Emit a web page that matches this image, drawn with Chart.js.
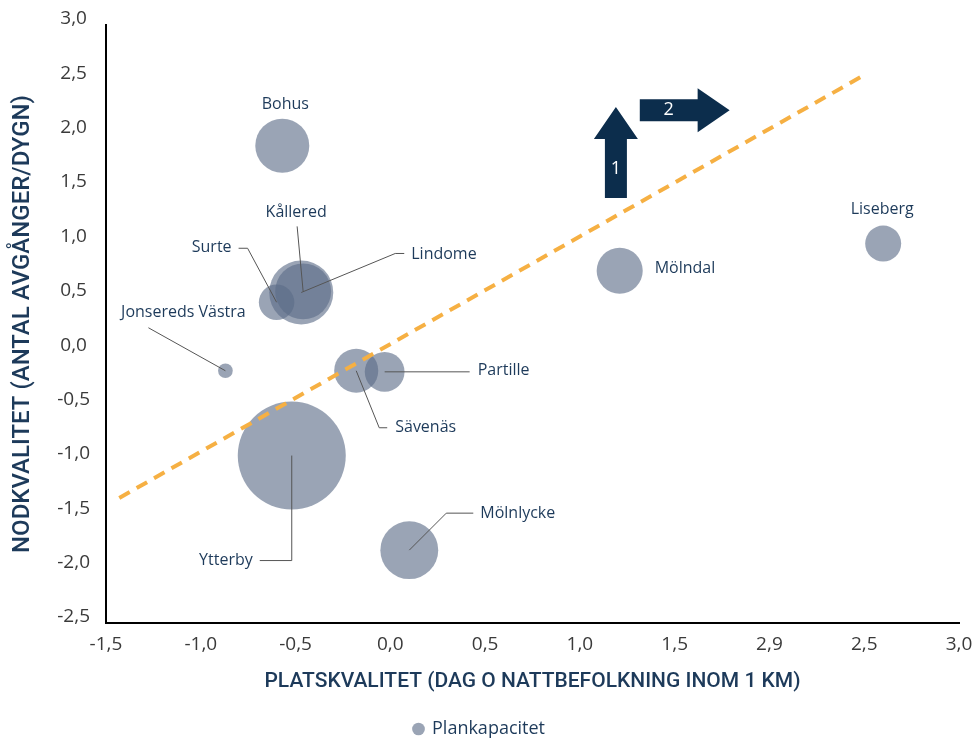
<!DOCTYPE html>
<html>
<head>
<meta charset="utf-8">
<script src="https://cdn.jsdelivr.net/npm/chart.js@4.4.1/dist/chart.umd.min.js"></script>
<style>
    html, body { margin: 0; padding: 0; background: #fff; }
    #wrap { width: 979px; height: 740px; }
</style>
</head>
<body>
<div id="wrap"><canvas id="bubble-chart"></canvas></div>
<script>
const stations = ["Bohus", "Kållered", "Lindome", "Surte", "Jonsereds Västra", "Sävenäs", "Partille", "Ytterby", "Mölnlycke", "Mölndal", "Liseberg"];
const platskvalitet = [-0.57, -0.46, -0.47, -0.60, -0.87, -0.18, -0.03, -0.52, 0.10, 1.21, 2.60];
const nodkvalitet = [1.89, 0.55, 0.54, 0.45, -0.18, -0.18, -0.19, -0.96, -1.83, 0.74, 0.99];
const plankapacitet = [81, 87, 114, 35, 6, 54, 44, 324, 93, 59, 36];

const trendX = [-1.43, 2.49];
const trendY = [-1.35, 2.53];

const xTickValues = [-1.5, -1.0, -0.5, 0.0, 0.5, 1.0, 1.5, 2.0, 2.5, 3.0];
const xTickLabels = ["-1,5", "-1,0", "-0,5", "0,0", "0,5", "1,0", "1,5", "2,9", "2,5", "3,0"];
const yTickValues = [-2.5, -2.0, -1.5, -1.0, -0.5, 0.0, 0.5, 1.0, 1.5, 2.0, 2.5, 3.0];
const yTickLabels = ["-2,5", "-2,0", "-1,5", "-1,0", "-0,5", "0,0", "0,5", "1,0", "1,5", "2,0", "2,5", "3,0"];

// arrows sit in data space, sizes in px
const arrowUp = { x: 1.19, from: 1.41, to: 2.245, text: "1" };
const arrowRight = { y: 2.216, from: 1.316, to: 1.79, text: "2" };

const navy = "#1d3a5a";
const bubbleColor = "rgba(92, 108, 135, 0.62)";

// where each name goes, relative to its bubble centre (px)
const labelLayout = {
    "Bohus":            { dx: 3,   dy: -41, align: "center", leader: [] },
    "Kållered":         { dx: -7,  dy: -79, align: "center", leader: [[0, 0], [-6, -65]] },
    "Lindome":          { dx: 110, dy: -38, align: "left",   leader: [[0, 0], [94, -39], [103, -39]] },
    "Surte":            { dx: -45, dy: -55, align: "right",  leader: [[0, 0], [-29, -54], [-38, -54]] },
    "Jonsereds Västra": { dx: -42, dy: -58, align: "center", leader: [[0, 0], [-77, -43]] },
    "Sävenäs":          { dx: 39,  dy: 57,  align: "left",   leader: [[0, 0], [23, 57], [31, 57]] },
    "Partille":         { dx: 93,  dy: -1,  align: "left",   leader: [[0, 0], [85, 0]] },
    "Ytterby":          { dx: -39, dy: 105, align: "right",  leader: [[0, 0], [0, 105], [-32, 105]] },
    "Mölnlycke":        { dx: 71,  dy: -37, align: "left",   leader: [[0, 0], [37, -37], [64, -37]] },
    "Mölndal":          { dx: 35,  dy: -2,  align: "left",   leader: [] },
    "Liseberg":         { dx: -1,  dy: -34, align: "center", leader: [] }
};

function buildBubbles() {
    const points = [];
    stations.forEach((name, i) => {
        points.push({ x: platskvalitet[i], y: nodkvalitet[i], r: Math.sqrt(plankapacitet[i]) * 3 });
    });
    return points;
}

function buildTrend() {
    return trendX.map((x, i) => ({ x: x, y: trendY[i] }));
}

const labelPlugin = {
    id: "stationLabels",
    afterDatasetsDraw(chart) {
        const ctx = chart.ctx;
        const meta = chart.getDatasetMeta(0);
        ctx.save();
        ctx.font = "16px 'Open Sans'";
        ctx.textBaseline = "middle";
        meta.data.forEach((el, i) => {
            const lay = labelLayout[stations[i]];
            if (lay.leader.length) {
                ctx.beginPath();
                ctx.strokeStyle = "#555";
                ctx.lineWidth = 1;
                lay.leader.forEach((p, j) => {
                    if (j === 0) ctx.moveTo(el.x + p[0], el.y + p[1]);
                    else ctx.lineTo(el.x + p[0], el.y + p[1]);
                });
                ctx.stroke();
            }
            ctx.fillStyle = navy;
            ctx.textAlign = lay.align;
            ctx.fillText(stations[i], el.x + lay.dx, el.y + lay.dy);
        });
        ctx.restore();
    }
};

const arrowPlugin = {
    id: "arrows",
    afterDatasetsDraw(chart) {
        const ctx = chart.ctx;
        const xs = chart.scales.x;
        const ys = chart.scales.y;
        const shaft = 11, head = 22, headLen = 32;
        ctx.save();
        ctx.fillStyle = "#0c2d4c";

        const ux = xs.getPixelForValue(arrowUp.x);
        const uy0 = ys.getPixelForValue(arrowUp.from);
        const uy1 = ys.getPixelForValue(arrowUp.to);
        ctx.beginPath();
        ctx.moveTo(ux - shaft, uy0);
        ctx.lineTo(ux - shaft, uy1 + headLen);
        ctx.lineTo(ux - head, uy1 + headLen);
        ctx.lineTo(ux, uy1);
        ctx.lineTo(ux + head, uy1 + headLen);
        ctx.lineTo(ux + shaft, uy1 + headLen);
        ctx.lineTo(ux + shaft, uy0);
        ctx.closePath();
        ctx.fill();

        const ry = ys.getPixelForValue(arrowRight.y);
        const rx0 = xs.getPixelForValue(arrowRight.from);
        const rx1 = xs.getPixelForValue(arrowRight.to);
        ctx.beginPath();
        ctx.moveTo(rx0, ry - shaft);
        ctx.lineTo(rx1 - headLen, ry - shaft);
        ctx.lineTo(rx1 - headLen, ry - head);
        ctx.lineTo(rx1, ry);
        ctx.lineTo(rx1 - headLen, ry + head);
        ctx.lineTo(rx1 - headLen, ry + shaft);
        ctx.lineTo(rx0, ry + shaft);
        ctx.closePath();
        ctx.fill();

        ctx.fillStyle = "#fff";
        ctx.font = "18px 'Open Sans'";
        ctx.textAlign = "center";
        ctx.textBaseline = "middle";
        ctx.fillText(arrowUp.text, ux, (uy0 + uy1 + headLen) / 2);
        ctx.fillText(arrowRight.text, (rx0 + rx1 - headLen) / 2, ry);
        ctx.restore();
    }
};

const chartEl = document.getElementById("bubble-chart");
const bubbleChart = new Chart(chartEl, {
    type: "bubble",
    data: {
        datasets: [
            {
                label: "Plankapacitet",
                data: buildBubbles(),
                backgroundColor: bubbleColor,
                borderWidth: 0,
                hoverBorderWidth: 0,
                order: 1
            },
            {
                type: "line",
                label: "Trend",
                data: buildTrend(),
                borderColor: "#f6b043",
                borderWidth: 4,
                borderDash: [12, 8],
                pointRadius: 0,
                fill: false,
                order: 0
            }
        ]
    },
    options: {
        responsive: true,
        maintainAspectRatio: false,
        animation: false,
        layout: { autoPadding: false, padding: { left: 0, right: 20, top: 25, bottom: -8 } },
        plugins: {
            tooltip: { enabled: false },
            legend: {
                position: "bottom",
                labels: {
                    filter: (item) => item.datasetIndex === 0,
                    usePointStyle: true,
                    pointStyle: "circle",
                    boxWidth: 9,
                    boxHeight: 9,
                    padding: 10,
                    color: navy,
                    font: { family: "'Open Sans'", size: 18 }
                }
            }
        },
        scales: {
            x: {
                type: "linear",
                min: -1.5,
                max: 3.0,
                afterBuildTicks: (scale) => { scale.ticks = xTickValues.map(v => ({ value: v })); },
                afterFit: (scale) => {
                    scale.height = 87;
                    scale.paddingLeft = 0;
                    scale.paddingRight = 0;
                },
                grid: { display: false, drawTicks: false },
                border: { display: true, color: "#000", width: 2 },
                ticks: {
                    padding: 10,
                    color: "#3a3a3a",
                    font: { family: "'Open Sans'", size: 19 },
                    callback: (value, index) => xTickLabels[index]
                },
                title: {
                    display: true,
                    text: "PLATSKVALITET (DAG O NATTBEFOLKNING INOM 1 KM)",
                    color: navy,
                    font: { family: "Roboto", size: 21, weight: "500" },
                    padding: { top: 4, bottom: 16 }
                }
            },
            y: {
                type: "linear",
                min: -2.5,
                max: 3.0,
                afterBuildTicks: (scale) => { scale.ticks = yTickValues.map(v => ({ value: v })); },
                afterFit: (scale) => {
                    scale.width = 106;
                    scale.paddingTop = 0;
                    scale.paddingBottom = 0;
                },
                grid: { display: false, drawTicks: false },
                border: { display: true, color: "#000", width: 2 },
                ticks: {
                    padding: 16,
                    crossAlign: "center",
                    labelOffset: -6,
                    color: "#3a3a3a",
                    font: { family: "'Open Sans'", size: 19 },
                    callback: (value, index) => yTickLabels[index]
                },
                title: {
                    display: true,
                    text: "NODKVALITET (ANTAL AVGÅNGER/DYGN)",
                    color: navy,
                    font: { family: "Roboto", size: 24, weight: "500" },
                    padding: { top: 9, bottom: 0 }
                }
            }
        }
    },
    plugins: [labelPlugin, arrowPlugin]
});
</script>
</body>
</html>
